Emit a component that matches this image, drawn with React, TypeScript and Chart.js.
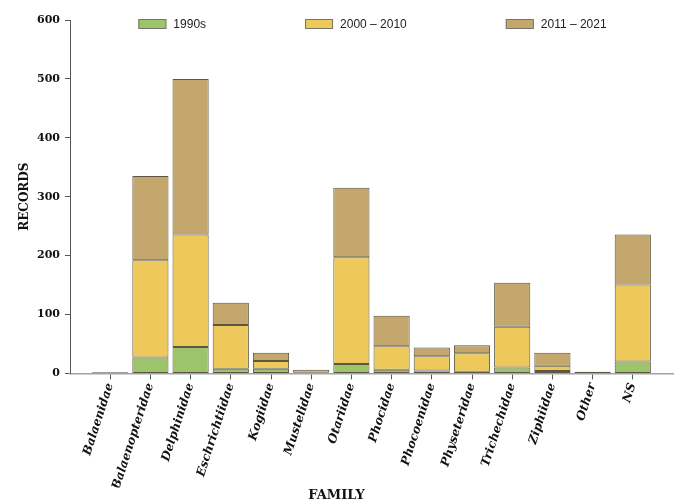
import React, { useEffect, useRef } from 'react';
import { Chart, registerables } from 'chart.js';

Chart.register(...registerables);

// Marine mammal families on the x axis
const families = [
  'Balaenidae',
  'Balaenopteridae',
  'Delphinidae',
  'Eschrichtiidae',
  'Kogiidae',
  'Mustelidae',
  'Otariidae',
  'Phocidae',
  'Phocoenidae',
  'Physeteridae',
  'Trichechidae',
  'Ziphiidae',
  'Other',
  'NS',
];

// Number of records per family, by period (stacked)
const records1990s = [0, 27, 45, 8, 8, 0, 16, 6, 5, 3, 10, 4, 3, 20];
const records2000to2010 = [0, 165, 191, 74, 13, 1, 181, 40, 24, 31, 69, 9, 0, 131];
const records2011to2021 = [2, 143, 264, 38, 14, 5, 118, 52, 15, 14, 75, 22, 0, 85];

const periodLabels = ['1990s', '2000 – 2010', '2011 – 2021'];
const yTicks = [0, 100, 200, 300, 400, 500, 600];

const COLORS = ['#9cc46b', '#ecc95a', '#c4a76c'];
const SERIF = '"DejaVu Serif", serif';
const SANS = '"Liberation Sans", Arial, sans-serif';

// Legend row drawn across the top of the plot
const topLegend = {
  id: 'topLegend',
  afterDraw(chart: any) {
    const { ctx, chartArea } = chart;
    const boxW = 28;
    const boxH = 10;
    const gapText = 7;
    const gapItem = 99;
    const y = 24;
    ctx.save();
    ctx.font = `12px ${SANS}`;
    const widths = chart.data.datasets.map(
      (ds: any) => boxW + gapText + ctx.measureText(ds.label).width
    );
    const total = widths.reduce((a: number, b: number) => a + b, 0) + gapItem * (widths.length - 1);
    let x = (chartArea.left + chartArea.right) / 2 + 1 - total / 2;
    chart.data.datasets.forEach((ds: any, i: number) => {
      ctx.fillStyle = ds.backgroundColor;
      ctx.fillRect(x, y - boxH / 2, boxW, boxH);
      ctx.strokeStyle = '#7a7568';
      ctx.lineWidth = 1;
      ctx.strokeRect(x + 0.5, y - boxH / 2 + 0.5, boxW - 1, boxH - 1);
      ctx.fillStyle = '#222';
      ctx.textAlign = 'left';
      ctx.textBaseline = 'middle';
      ctx.fillText(ds.label, x + boxW + gapText, y + 1);
      x += widths[i] + gapItem;
    });
    ctx.restore();
  },
};

export default function App() {
  const canvasRef = useRef<HTMLCanvasElement | null>(null);

  useEffect(() => {
    if (!canvasRef.current) return;
    const series = [records1990s, records2000to2010, records2011to2021];
    const chart = new Chart(canvasRef.current, {
      type: 'bar',
      data: {
        datasets: series.map((values, s) => ({
          label: periodLabels[s],
          data: values.map((v, i) => ({ x: i, y: v })),
          backgroundColor: COLORS[s],
          borderColor: '#5d5644',
          borderWidth: 1,
          borderSkipped: false,
          categoryPercentage: 0.9,
          barPercentage: 1,
        })),
      },
      options: {
        responsive: false,
        animation: false,
        maintainAspectRatio: false,
        layout: { padding: { top: 20, right: 5, bottom: 0, left: 0 } },
        plugins: {
          legend: { display: false },
          tooltip: { enabled: false },
          title: {
            display: true,
            position: 'bottom',
            text: 'FAMILY',
            color: '#111',
            font: { family: SERIF, size: 13, weight: 'bold' },
            padding: { top: 0, bottom: 0 },
          },
        },
        scales: {
          x: {
            type: 'linear',
            stacked: true,
            min: -1,
            max: families.length,
            offset: false,
            afterBuildTicks: (scale: any) => {
              scale.ticks = families.map((_, i) => ({ value: i }));
            },
            afterFit: (scale: any) => {
              scale.height = 114;
            },
            border: { display: true, color: '#a3a3a3', width: 1.5 },
            grid: {
              display: true,
              offset: false,
              drawOnChartArea: false,
              drawTicks: true,
              tickLength: 6,
              color: '#555',
            },
            ticks: {
              autoSkip: false,
              minRotation: 72,
              maxRotation: 72,
              padding: 2,
              color: '#111',
              font: { family: SERIF, size: 12, weight: 'bold', style: 'italic' },
              callback: (value: any) => families[value] ?? '',
            },
          },
          y: {
            stacked: true,
            min: 0,
            max: 600,
            afterBuildTicks: (scale: any) => {
              scale.ticks = yTicks.map((v) => ({ value: v }));
            },
            afterFit: (scale: any) => {
              scale.width = 70;
            },
            border: { display: true, color: '#555', width: 1 },
            grid: {
              display: true,
              drawOnChartArea: false,
              drawTicks: true,
              tickLength: 5,
              color: '#555',
            },
            ticks: {
              padding: 5,
              color: '#111',
              font: { family: SERIF, size: 11, weight: 'bold' },
            },
            title: {
              display: true,
              text: 'RECORDS',
              color: '#111',
              font: { family: SERIF, size: 12, weight: 'bold' },
              padding: { top: 18, bottom: 0 },
            },
          },
        },
      },
      plugins: [topLegend],
    } as any);
    return () => chart.destroy();
  }, []);

  return (
    <div style={{ position: 'fixed', left: 0, top: 0, width: 678, height: 503, background: '#fff' }}>
      <canvas ref={canvasRef} width={678} height={503} style={{ display: 'block', width: 678, height: 503 }} />
    </div>
  );
}
